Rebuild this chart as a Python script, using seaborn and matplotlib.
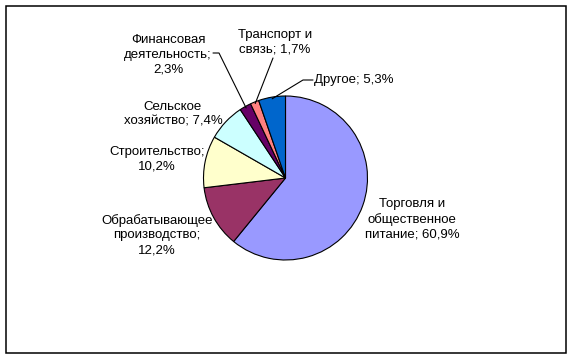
import numpy as np
import matplotlib
matplotlib.use("Agg")
import matplotlib.pyplot as plt
import seaborn as sns

categories = ["Торговля и\nобщественное\nпитание", "Обрабатывающее\nпроизводство",
              "Строительство", "Сельское\nхозяйство", "Финансовая\nдеятельность",
              "Транспорт и\nсвязь", "Другое"]
values = [60.9, 12.2, 10.2, 7.4, 2.3, 1.7, 5.3]
value_labels = ["60,9%", "12,2%", "10,2%", "7,4%", "2,3%", "1,7%", "5,3%"]
value_on_new_line = [False, True, True, False, True, False, False]
colors = ["#9999FF", "#993366", "#FFFFCC", "#CCFFFF", "#660066", "#FF8080", "#0066CC"]

sns.set_theme(style="white")
plt.rcParams['font.family'] = ['Liberation Sans', 'DejaVu Sans']

W, H = 572, 358
fig = plt.figure(figsize=(W / 100, H / 100), dpi=100)
ax = fig.add_axes([0, 0, 1, 1])

def Y(py):
    return H - py

cx, cy, r = 285.5, Y(178), 82
wedges, _ = ax.pie(values, colors=colors, startangle=90, counterclock=False,
                   center=(cx, cy), radius=r, frame=True,
                   wedgeprops=dict(edgecolor="black", linewidth=0.8))
ax.set_xlim(0, W)
ax.set_ylim(0, H)
ax.set_aspect("equal")
ax.axis("off")

# border
ax.add_patch(plt.Rectangle((5.5, Y(352.5)), 560, 347, fill=False, edgecolor="black", linewidth=1.1))

# label texts (layout positions in pixels)
label_pos = [
    (412, 219, "center"),
    (157, 235, "center"),
    (157, 159, "center"),
    (173, 114, "center"),
    (168, 55, "center"),
    (275, 42, "center"),
    (314, 80, "left"),
]
for i, (lx, ly, ha) in enumerate(label_pos):
    sep = ";\n" if value_on_new_line[i] else "; "
    txt = categories[i] + sep + value_labels[i]
    ax.text(lx, Y(ly), txt, ha=ha, va="center", fontsize=9.5, linespacing=1.3, color="black")

# leader lines for small slices
def mid_point(w, frac=0.98):
    ang = np.deg2rad((w.theta1 + w.theta2) / 2)
    return cx + r * frac * np.cos(ang), cy + r * frac * np.sin(ang)

leaders = {6: [(313, 80), (303, 80)], 4: [(213, 53), (219, 53)], 5: [(273, 58)]}
for i, pts in leaders.items():
    mx, my = mid_point(wedges[i])
    xs = [p[0] for p in pts] + [mx]
    ys = [Y(p[1]) for p in pts] + [my]
    ax.plot(xs, ys, color="black", linewidth=0.8)

fig.savefig("out.png", dpi=100)
